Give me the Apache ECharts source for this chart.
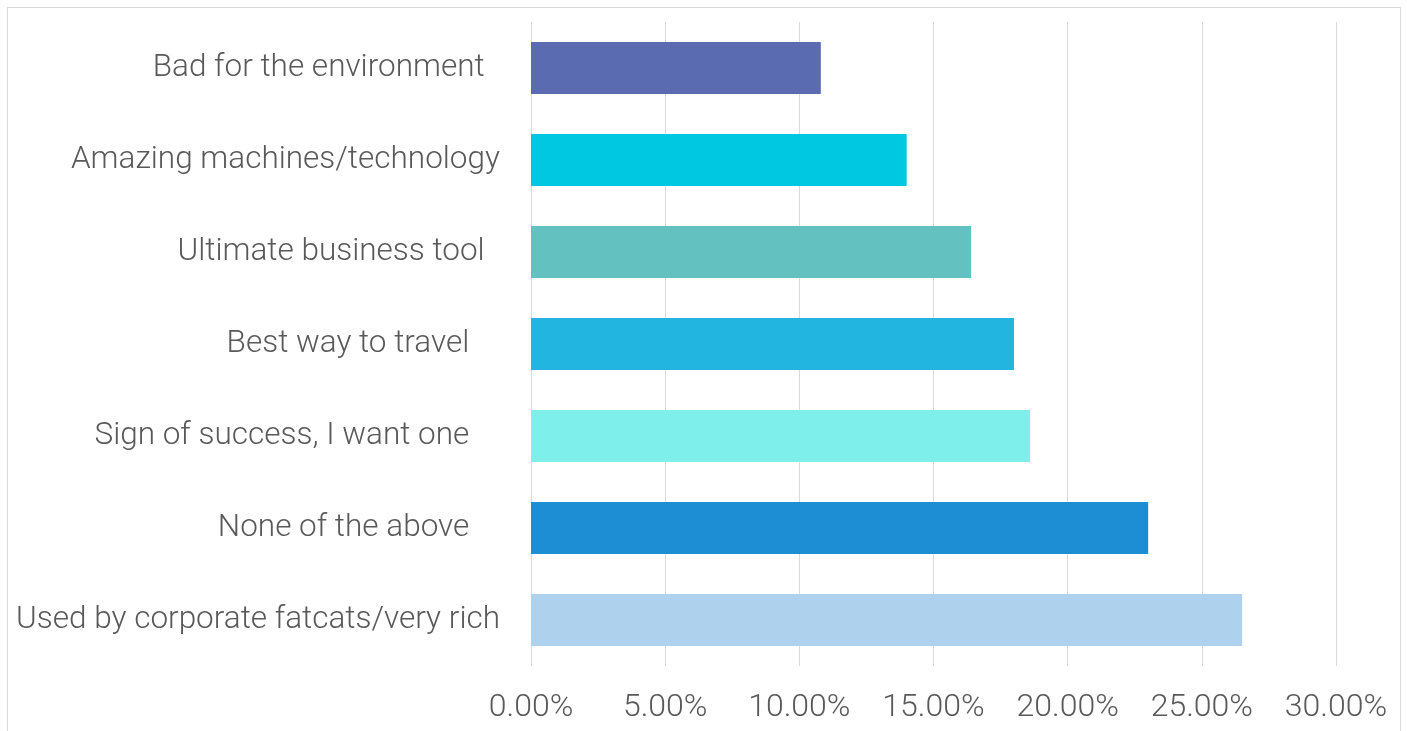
<!DOCTYPE html>
<html>
<head>
<meta charset="utf-8">
<script src="https://cdn.jsdelivr.net/npm/echarts@6/dist/echarts.min.js"></script>
<style>
  html, body { margin: 0; padding: 0; background: #fff; }
  #frame { position: absolute; left: 7px; top: 7px; width: 1394px; height: 740px; border: 1px solid #D9D9D9; box-sizing: border-box; }
  #chart { position: absolute; left: 0; top: 0; width: 1407px; height: 731px; }
</style>
</head>
<body>
<div id="frame"></div>
<div id="chart"></div>
<script>
const categories = [
  "Bad for the environment  ",
  "Amazing machines/technology",
  "Ultimate business tool  ",
  "Best way to travel    ",
  "Sign of success, I want one    ",
  "None of the above    ",
  "Used by corporate fatcats/very rich"
];
const values = [10.8, 14.0, 16.4, 18.0, 18.6, 23.0, 26.5];
const barColors = ["#5A6BB1", "#00C8E0", "#63C1BF", "#22B5E0", "#7EEFEB", "#1E8ED4", "#AED1EE"];
const xTicks = { min: 0, max: 30, interval: 5 };

const chart = echarts.init(document.getElementById('chart'), null, { renderer: 'canvas' });
chart.setOption({
  animation: false,
  backgroundColor: 'transparent',
  grid: { left: 531, right: 71, top: 22, bottom: 65, containLabel: false },
  xAxis: {
    type: 'value',
    min: xTicks.min, max: xTicks.max, interval: xTicks.interval,
    axisLine: { show: false },
    axisTick: { show: false },
    splitLine: { show: true, lineStyle: { color: '#D9D9D9', width: 1 } },
    axisLabel: {
      formatter: v => v.toFixed(2) + '%',
      color: '#595959', fontFamily: 'Roboto', fontWeight: 300, fontSize: 32, margin: 26
    }
  },
  yAxis: {
    type: 'category',
    data: categories,
    inverse: true,
    axisLine: { show: false },
    axisTick: { show: false },
    splitLine: { show: false },
    axisLabel: {
      color: '#595959', fontFamily: 'Roboto', fontWeight: 300, fontSize: 31.5, margin: 31,
      padding: [8, 0, 0, 0]
    }
  },
  series: [{
    type: 'bar',
    barWidth: 52,
    data: values.map((v, i) => ({ value: v, itemStyle: { color: barColors[i] } })),
    label: { show: false }
  }]
});
</script>
</body>
</html>
